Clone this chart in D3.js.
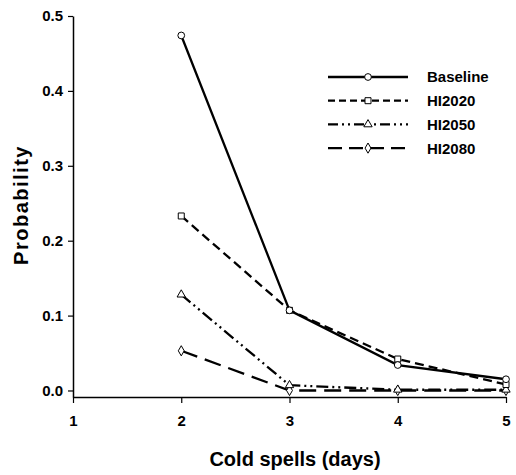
<!DOCTYPE html>
<html>
<head>
<meta charset="utf-8">
<script src="https://cdn.jsdelivr.net/npm/d3@7"></script>
<style>
    body { margin: 0; background: #fff; }
    text { font-family: "Liberation Sans", Arial, sans-serif; font-weight: bold; }
</style>
</head>
<body>
<div id="chart"></div>
<script>
// cold spell duration (days)
let days = [2, 3, 4, 5];
let seriesNames = ["Baseline", "HI2020", "HI2050", "HI2080"];
let baseline = [0.474, 0.107, 0.034, 0.015];
let hi2020 = [0.233, 0.107, 0.042, 0.008];
let hi2050 = [0.128, 0.007, 0.001, 0.001];
let hi2080 = [0.053, 0.000, 0.000, 0.000];
let xTicks = [1, 2, 3, 4, 5];
let yTicks = [0.0, 0.1, 0.2, 0.3, 0.4, 0.5];

let seriesValues = [baseline, hi2020, hi2050, hi2080];
let dashes = ["none", "9,5", "12,4,2,4,2,4", "17,8"];
let legendDashes = ["none", "7,4", "10,4,2,4,2,4", "14,7"];
let symbols = [d3.symbolCircle, d3.symbolSquare, d3.symbolTriangle, d3.symbolDiamond];
let symbolSizes = [36, 36, 30, 30];

let width = 516, height = 475;

let svg = d3.select("#chart").append("svg")
    .attr("width", width)
    .attr("height", height);

let xScale = d3.scaleLinear()
    .domain([1, 5])
    .range([73, 506]);

let yScale = d3.scaleLinear()
    .domain([-0.0087, 0.5])
    .range([397, 16]);

//Add the y Axis
let yAxis = svg.append("g")
    .attr("transform", "translate(" + 73 + ",0)")
    .call(d3.axisLeft(yScale).tickValues(yTicks).tickFormat(d3.format(".1f"))
        .tickSize(5).tickSizeOuter(0).tickPadding(5));

//Add the x Axis
let xAxis = svg.append("g")
    .attr("transform", "translate(0," + 397 + ")")
    .call(d3.axisBottom(xScale).tickValues(xTicks).tickFormat(d3.format("d"))
        .tickSize(6).tickSizeOuter(0).tickPadding(12));

[xAxis, yAxis].forEach((ax) => {
    ax.select(".domain").attr("stroke", "#000").attr("stroke-width", 1.5);
    ax.selectAll(".tick line").attr("stroke", "#000").attr("stroke-width", 1.2);
    ax.selectAll(".tick text")
        .attr("fill", "#000")
        .style("font-size", "15px")
        .style("font-family", "'Liberation Sans', Arial, sans-serif")
        .style("font-weight", "bold");
});

svg.append("text")
    .attr("fill", "#000")
    .attr("x", 295)
    .attr("y", 466)
    .attr("text-anchor", "middle")
    .style("font-size", "20px")
    .text("Cold spells (days)");

svg.append("text")
    .attr("fill", "#000")
    .attr("transform", "rotate(-90)")
    .attr("x", -205)
    .attr("y", 28)
    .attr("text-anchor", "middle")
    .style("font-size", "20px")
    .style("letter-spacing", "1.5px")
    .text("Probability");

let line = d3.line()
    .x((d) => xScale(d.x))
    .y((d) => yScale(d.y));

// draw series back to front
for (let s = seriesValues.length - 1; s >= 0; s--) {
    let pts = days.map((d, i) => ({ x: d, y: seriesValues[s][i] }));

    svg.append("path")
        .datum(pts)
        .attr("fill", "none")
        .attr("stroke", "#000")
        .attr("stroke-width", 2.3)
        .attr("stroke-dasharray", dashes[s])
        .attr("d", line);

    svg.selectAll(".pt" + s)
        .data(pts)
        .enter().append("path")
        .attr("class", "pt" + s)
        .attr("transform", (d) => "translate(" + xScale(d.x) + "," + yScale(d.y) + ")")
        .attr("d", d3.symbol().type(symbols[s]).size(symbolSizes[s]))
        .attr("fill", "#fff")
        .attr("stroke", "#000")
        .attr("stroke-width", 1);
}

// legend
let legend = svg.append("g").attr("transform", "translate(328,77)");

seriesNames.forEach((name, i) => {
    let row = legend.append("g").attr("transform", "translate(0," + (i * 23.7) + ")");

    row.append("line")
        .attr("x1", 0).attr("x2", 80)
        .attr("stroke", "#000")
        .attr("stroke-width", 2.3)
        .attr("stroke-dasharray", legendDashes[i]);

    row.append("path")
        .attr("transform", "translate(40,0)")
        .attr("d", d3.symbol().type(symbols[i]).size(symbolSizes[i]))
        .attr("fill", "#fff")
        .attr("stroke", "#000")
        .attr("stroke-width", 1);

    row.append("text")
        .attr("fill", "#000")
        .attr("x", 99)
        .attr("dy", "0.36em")
        .style("font-size", "15px")
        .text(name);
});
</script>
</body>
</html>
